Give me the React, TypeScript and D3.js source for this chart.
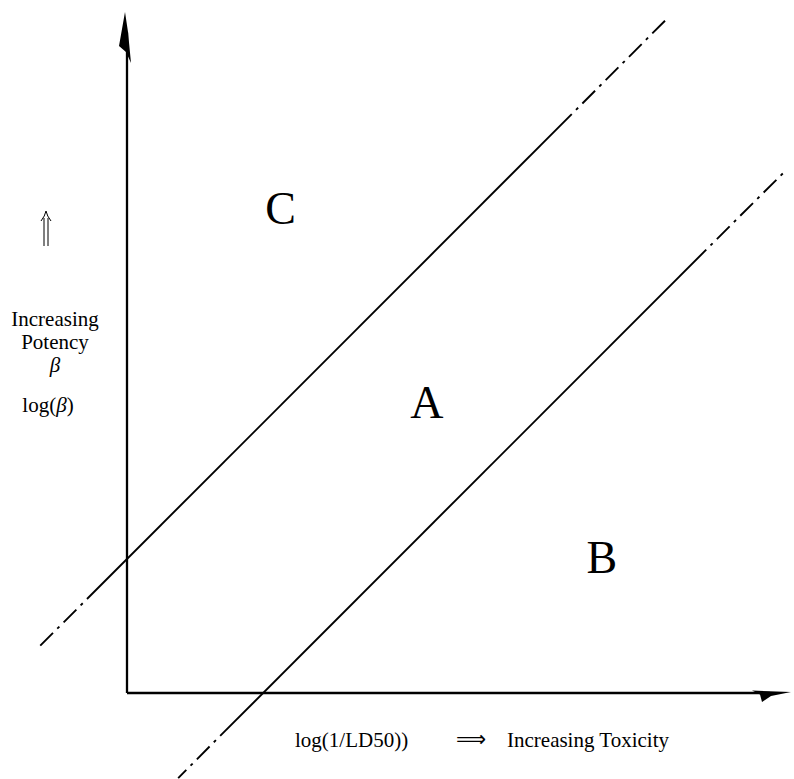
import React from "react";
import * as d3 from "d3";

// Abstract chart units: log(1/LD50) on x, log(beta) on y (0..100 each axis)
const xDomain: [number, number] = [0, 100];
const yDomain: [number, number] = [0, 100];

// Boundary lines (solid part and dash-dot extensions), in chart units
const upperLineSolid: [number, number][] = [[-6.1, 13.8], [67.8, 85.0]];
const upperLineExt: [number, number][][] = [
  [[-6.1, 13.8], [-13.7, 6.5]],
  [[67.8, 85.0], [82.3, 99.0]],
];
const lowerLineSolid: [number, number][] = [[14.2, -6.3], [88.3, 65.1]];
const lowerLineExt: [number, number][][] = [
  [[14.2, -6.3], [7.8, -12.5]],
  [[88.3, 65.1], [100.6, 76.9]],
];

// Region labels
const regionLabels = ["C", "A", "B"];
const regionX = [23.4, 45.7, 72.4];
const regionY = [68.9, 40.4, 17.6];

const yLabelLines = ["Increasing", "Potency", "β"];
const xLabelLog = "log(1/LD50))";
const xLabelArrow = "⟹";
const xLabelText = "Increasing Toxicity";

export default function App() {
  const W = 794, H = 779;
  const x = d3.scaleLinear().domain(xDomain).range([127, 783]);
  const y = d3.scaleLinear().domain(yDomain).range([693, 12]);
  const line = d3.line<[number, number]>().x(d => x(d[0])).y(d => y(d[1]));
  const serif = "'Liberation Serif', 'Times New Roman', serif";

  const ox = x(0), oy = y(0);
  const dash = { stroke: "#000", strokeWidth: 1.9, fill: "none", strokeDasharray: "18 6 3 6", strokeDashoffset: 18 } as const;

  // up double arrow glyph drawn near the y label
  const ax = 46, aTop = 211, aBot = 246;

  return (
    <svg width={W} height={H} style={{ position: "absolute", left: 0, top: 0, background: "#fff" }}>
      <rect width={W} height={H} fill="#fff" />
      {/* axes */}
      <line x1={ox} y1={oy} x2={ox} y2={y(97)} stroke="#000" strokeWidth={2.3} />
      <line x1={ox} y1={oy} x2={x(98)} y2={oy} stroke="#000" strokeWidth={2.3} />
      {/* vertical arrow head */}
      <polygon
        points={`${ox - 2},${y(100)} ${ox - 8},${y(100) + 34} ${ox - 1},${y(100) + 40} ${ox + 4},${y(100) + 51} ${ox + 1},${y(100) + 20}`}
        fill="#000"
      />
      {/* horizontal arrow head */}
      <polygon
        points={`${x(100) + 8},${oy - 1} ${x(100) - 31},${oy - 2.5} ${x(100) - 23},${oy + 1.5} ${x(100) - 21},${oy + 9} ${x(100) - 12},${oy + 3}`}
        fill="#000"
      />
      {/* boundary lines */}
      <path d={line(upperLineSolid) || ""} stroke="#000" strokeWidth={1.9} fill="none" />
      <path d={line(lowerLineSolid) || ""} stroke="#000" strokeWidth={1.9} fill="none" />
      {upperLineExt.concat(lowerLineExt).map((seg, i) => (
        <path key={i} d={line(seg) || ""} {...dash} />
      ))}
      {/* region labels */}
      {regionLabels.map((t, i) => (
        <text key={t} x={x(regionX[i])} y={y(regionY[i])} textAnchor="middle" fontFamily={serif} fontSize={46}>
          {t}
        </text>
      ))}
      {/* y label: up double arrow */}
      <g stroke="#000" strokeWidth={1} fill="none">
        <line x1={ax - 2} y1={aTop + 7} x2={ax - 2} y2={aBot} />
        <line x1={ax + 2} y1={aTop + 7} x2={ax + 2} y2={aBot} />
        <path d={`M${ax - 5},${aTop + 10} Q${ax - 1},${aTop + 5} ${ax},${aTop} Q${ax + 1},${aTop + 5} ${ax + 5},${aTop + 10}`} />
      </g>
      {yLabelLines.map((t, i) => (
        <text key={t} x={55} y={326 + i * 23} textAnchor="middle" fontFamily={serif} fontSize={21}
          fontStyle={t === "β" ? "italic" : "normal"}>{t}</text>
      ))}
      <text x={48} y={412} textAnchor="middle" fontFamily={serif} fontSize={21}>
        log(<tspan fontStyle="italic">β</tspan>)
      </text>
      {/* x label */}
      <text x={295} y={747} fontFamily={serif} fontSize={21}>{xLabelLog}</text>
      <text x={471} y={746} textAnchor="middle" fontFamily="'DejaVu Sans', sans-serif" fontSize={21}>{xLabelArrow}</text>
      <text x={507} y={747} fontFamily={serif} fontSize={21}>{xLabelText}</text>
    </svg>
  );
}
